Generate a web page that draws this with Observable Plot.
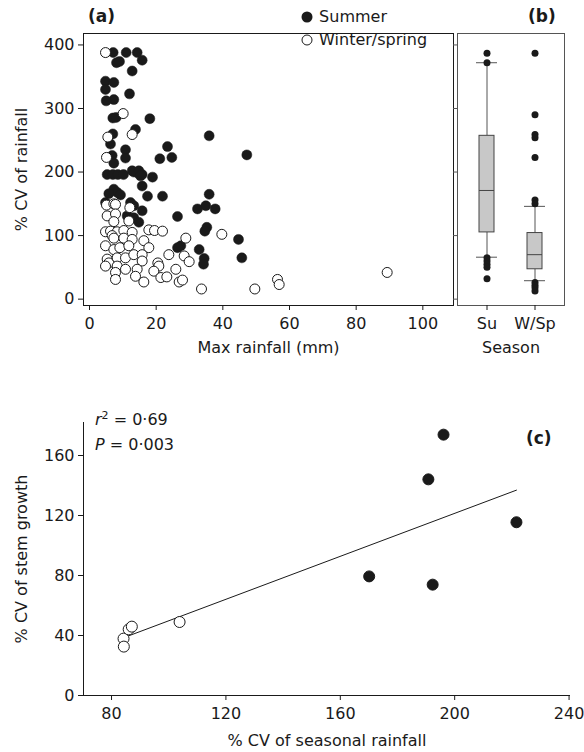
<!DOCTYPE html>
<html><head><meta charset="utf-8">
<script src="https://cdn.jsdelivr.net/npm/d3@7"></script>
<script src="https://cdn.jsdelivr.net/npm/@observablehq/plot@0.6"></script>
<style>
body{margin:0;background:#fff;}
#wrap{position:relative;width:584px;height:752px;font-family:"DejaVu Sans",Arial,sans-serif;color:#1a1a1a;}
#wrap > div.p{position:absolute;}
.lab{position:absolute;font-size:16px;white-space:nowrap;line-height:1;}
.b{font-weight:bold;font-size:17px;}
</style></head><body>
<div id="wrap"></div>
<script>
// ---- Panel (a): max rainfall vs % CV of rainfall ----
const summerX = [7.1,11.0,14.3,8.1,9.0,15.8,12.8,4.8,7.3,4.8,7.3,5.0,12.0,7.0,8.0,18.1,7.0,6.3,13.8,35.9,23.4,10.8,10.8,6.8,7.3,21.1,24.7,47.2,
  5.3,7.0,8.5,10.2,13.3,14.6,15.8,18.9,12.8,14.8,15.3,
  15.8,7.3,8.3,5.8,9.3,17.4,21.9,35.9,32.4,34.9,37.7,26.4,35.2,34.6,44.7,45.7,27.4,26.4,32.9,34.4,34.2,4.8,12.3,13.3,15.8,11.3,13.3,14.8];
const summerY = [388,388,388,372,374,376,359,343,341,330,314,312,323,285,286,284,260,244,267,257,240,235,222,226,214,221,223,227,
  196,196,196,196,200,198,196,192,202,202,194,
  178,173,168,166,164,162,162,165,142,147,142,130,113,107,94,65,84,81,78,64,55,152,152,147,139,131,128,121];
const winterX = [4.8,10.1,5.5,12.8,5.1,5.1,7.3,7.8,12.1,5.3,7.8,7.3,11.8,4.8,6.3,8.3,10.3,12.8,17.8,19.5,21.9,6.8,7.3,10.3,12.8,16.3,28.9,39.7,
  4.8,7.3,9.1,11.8,17.8,5.3,5.8,8.3,10.8,13.3,15.8,15.8,23.8,28.4,29.9,4.8,8.3,10.8,14.3,13.8,20.5,20.8,19.3,21.4,23.2,25.9,7.8,7.8,16.3,26.9,27.9,33.6,49.6,56.4,56.9,89.3];
const winterY = [388,292,255,259,223,148,150,149,144,131,134,122,123,106,107,106,108,105,109,108,107,100,96,96,94,92,96,102,
  84,78,81,84,81,63,57,65,65,70,70,60,70,68,59,52,52,47,47,36,57,52,44,34,35,47,42,31,27,27,30,16,16,31,23,42];
const aXTicks = [0,20,40,60,80,100];
const aYTicks = [0,100,200,300,400];

// ---- Panel (b): box plot summaries by season ----
const seasons = ["Su","W/Sp"];
const boxQ1 = [105,47];
const boxMedian = [171,70];
const boxQ3 = [257,104];
const whiskerLow = [66,29];
const whiskerHigh = [372,146];
const outSeason = ["Su","Su","Su","Su","Su","Su","Su","W/Sp","W/Sp","W/Sp","W/Sp","W/Sp","W/Sp","W/Sp","W/Sp","W/Sp","W/Sp","W/Sp"];
const outValue  = [387,372,65,60,55,50,32,387,290,259,254,223,156,150,26,22,18,13];

// ---- Panel (c): seasonal rainfall CV vs stem growth CV ----
const cX = [170.1,190.8,196.1,192.3,221.6,84.2,84.3,86.0,87.1,103.8];
const cY = [79.4,144.1,173.9,73.9,115.5,37.9,32.6,44.1,45.9,49.0];
const cSeason = ["Summer","Summer","Summer","Summer","Summer","Winter/spring","Winter/spring","Winter/spring","Winter/spring","Winter/spring"];
const cXTicks = [80,120,160,200,240];
const cYTicks = [0,40,80,120,160];

const FONT = '"DejaVu Sans", Arial, sans-serif';
const INK = "#1a1a1a";
const style = {fontSize:"16px", fontFamily:FONT, color:INK, background:"transparent", overflow:"visible"};
const wrap = document.getElementById("wrap");
function place(node, left, top){ const d=document.createElement("div"); d.className="p"; d.style.left=left+"px"; d.style.top=top+"px"; d.appendChild(node); wrap.appendChild(d); }
function label(html, left, top, cls){ const d=document.createElement("div"); d.className="lab"+(cls?" "+cls:""); d.style.left=left+"px"; d.style.top=top+"px"; d.innerHTML=html; wrap.appendChild(d); return d; }

const summer = summerX.map((x,i)=>({x, y:summerY[i]}));
const winter = winterX.map((x,i)=>({x, y:winterY[i]}));

const plotA = Plot.plot({
  width:456, height:360, marginLeft:83, marginRight:3, marginTop:33, marginBottom:55,
  style,
  x:{domain:[-1.8,109.2]}, y:{domain:[-10,418]},
  marks:[
    Plot.frame({stroke:INK}),
    Plot.axisX({ticks:aXTicks, tickSize:5, tickPadding:7, label:"Max rainfall (mm)", labelArrow:"none", labelAnchor:"center", labelOffset:47, stroke:INK}),
    Plot.axisY({ticks:aYTicks, tickSize:5, tickPadding:4, label:"% CV of rainfall", labelArrow:"none", labelAnchor:"center", labelOffset:68, stroke:INK}),
    Plot.dot(summer, {x:"x", y:"y", r:5, fill:INK, stroke:INK, strokeWidth:0.5}),
    Plot.dot(winter, {x:"x", y:"y", r:5, fill:"white", stroke:INK, strokeWidth:1})
  ]
});
place(plotA, 0, 0);

const boxes = seasons.map((s,i)=>({s, q1:boxQ1[i], med:boxMedian[i], q3:boxQ3[i], lo:whiskerLow[i], hi:whiskerHigh[i]}));
const outliers = outSeason.map((s,i)=>({s, v:outValue[i]}));
const plotB = Plot.plot({
  width:144, height:360, marginLeft:17, marginRight:20, marginTop:33, marginBottom:55,
  style,
  x:{type:"band", domain:seasons, paddingInner:0.69, paddingOuter:0.45},
  y:{domain:[-10,418]},
  marks:[
    Plot.frame({stroke:"#555"}),
    Plot.axisY({ticks:aYTicks, tickSize:4, tickFormat:()=>"", label:null, stroke:"#555"}),
    Plot.axisX({tickSize:5, tickPadding:7, label:"Season", labelArrow:"none", labelAnchor:"center", labelOffset:47, stroke:INK}),
    Plot.ruleX(boxes, {x:"s", y1:"lo", y2:"q1", stroke:"#555"}),
    Plot.ruleX(boxes, {x:"s", y1:"q3", y2:"hi", stroke:"#555"}),
    Plot.tickY(boxes, {x:"s", y:"lo", stroke:"#555", insetLeft:-3, insetRight:-3}),
    Plot.tickY(boxes, {x:"s", y:"hi", stroke:"#555", insetLeft:-3, insetRight:-3}),
    Plot.barY(boxes, {x:"s", y1:"q1", y2:"q3", fill:"#c8c8c8", stroke:"#444"}),
    Plot.tickY(boxes, {x:"s", y:"med", stroke:"#444"}),
    Plot.dot(outliers, {x:"s", y:"v", r:3.5, fill:INK})
  ]
});
place(plotB, 440, 0);

const cdata = cX.map((x,i)=>({x, y:cY[i], s:cSeason[i]}));
const cDom = [70.2,240.5];
const plotC = Plot.plot({
  width:584, height:352, marginLeft:83, marginRight:14, marginTop:22, marginBottom:57,
  style,
  x:{domain:cDom}, y:{domain:[0,182]},
  marks:[
    Plot.ruleX([cDom[0]], {stroke:INK}),
    Plot.ruleY([0], {stroke:INK}),
    Plot.axisX({ticks:cXTicks, tickSize:5, tickPadding:7, label:"% CV of seasonal rainfall", labelArrow:"none", labelAnchor:"center", labelOffset:50, stroke:INK}),
    Plot.axisY({ticks:cYTicks, tickSize:5, tickPadding:4, label:"% CV of stem growth", labelArrow:"none", labelAnchor:"center", labelOffset:68, stroke:INK}),
    Plot.linearRegressionY(cdata, {x:"x", y:"y", ci:0, stroke:INK, strokeWidth:1}),
    Plot.dot(cdata, {x:"x", y:"y", r:5.5, fill:d=>d.s==="Summer"?INK:"white", stroke:INK, strokeWidth:1})
  ]
});
place(plotC, 0, 400);

// panel letters, legend and statistics
label("(a)", 88, 8, "b");
label("(b)", 528, 8, "b");
label("(c)", 526, 430, "b");
label('<svg width="14" height="14" style="vertical-align:-2px"><circle cx="7" cy="7" r="5.5" fill="#1a1a1a"/></svg> Summer', 300, 9);
label('<svg width="14" height="14" style="vertical-align:-2px"><circle cx="7" cy="7" r="5" fill="white" stroke="#1a1a1a"/></svg> Winter/spring', 300, 32);
label('<i>r</i><sup style="font-size:11px;vertical-align:6px;line-height:0">2</sup> = 0·69', 95, 412);
label('<i>P</i> = 0·003', 95, 437);
</script>
</body></html>
